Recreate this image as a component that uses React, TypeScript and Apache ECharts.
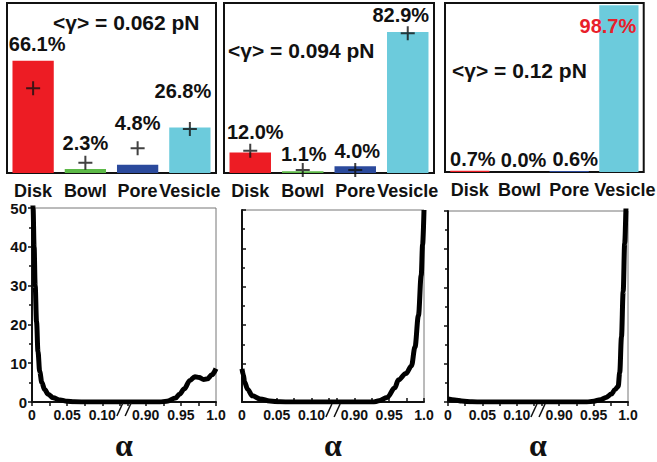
import React, { useEffect, useRef } from "react";
import * as echarts from "echarts";

// ---------- data ----------
const categories = ["Disk", "Bowl", "Pore", "Vesicle"];
const fractionsG062 = [66.1, 2.3, 4.8, 26.8];
const fractionsG094 = [12.0, 1.1, 4.0, 82.9];
const fractionsG12 = [0.7, 0.0, 0.6, 98.7];
const plusG062 = [49.8, 6.1, 14.5, 25.9];
const plusG094 = [13.1, 1.8, 1.8, 82.2];
const gammaTitles = ["<γ> = 0.062 pN", "<γ> = 0.094 pN", "<γ> = 0.12 pN"];

const alphaG062 = [0, 0.0015, 0.003, 0.0045, 0.0065, 0.0085, 0.011, 0.014, 0.018, 0.023, 0.03, 0.04, 0.05, 0.06, 0.08, 0.125,
  0.875, 0.92, 0.93, 0.9425, 0.948, 0.955, 0.9625, 0.97, 0.976, 0.9825, 0.988, 0.994, 1.0];
const densG062 = [62, 50, 40, 30, 20.6, 13, 7.8, 5, 3.2, 2.0, 1.1, 0.5, 0.2, 0.05, 0, 0,
  0, 0, 0.2, 1.0, 2.0, 3.4, 5.5, 6.5, 6.3, 5.8, 6.0, 7.0, 8.6];

const alphaG094 = [0, 0.002, 0.0036, 0.008, 0.015, 0.026, 0.04, 0.055, 0.07, 0.125,
  0.875, 0.928, 0.935, 0.947, 0.958, 0.963, 0.974, 0.982, 0.987, 0.992, 0.996, 0.998, 1.0];
const densG094 = [8.6, 7.0, 5.3, 3.3, 1.6, 0.8, 0.25, 0.05, 0, 0,
  0, 0, 0.3, 1.2, 3.7, 5.7, 7.4, 9.4, 14.3, 22.5, 33, 41, 50];

const alphaG12 = [0, 0.01, 0.02, 0.035, 0.05, 0.125,
  0.875, 0.94, 0.95, 0.96, 0.968, 0.976, 0.981, 0.9857, 0.988, 0.9905, 0.993, 0.9952, 0.9976, 1.0];
const densG12 = [0.8, 0.5, 0.25, 0.05, 0, 0,
  0, 0, 0.2, 0.6, 1.2, 2.1, 3.2, 4.1, 7.8, 17, 29, 41.6, 52, 60];

const yTicks = [0, 10, 20, 30, 40, 50];
const breakStart = 0.125;
const breakEnd = 0.875;

// ---------- styles ----------
const barColors = ["#ed1c24", "#5cb947", "#2b4a9c", "#6ccbdc"];
const SANS = '"Liberation Sans", Arial, sans-serif';
const topGrids = [
  { left: 7, top: 3, width: 209, height: 170 },
  { left: 224, top: 3, width: 210, height: 170 },
  { left: 445, top: 3, width: 210, height: 169 },
];
const bottomGrids = [
  { left: 32, top: 208, width: 184, height: 204 },
  { left: 242, top: 210, width: 182, height: 203 },
  { left: 448, top: 211, width: 180, height: 202 },
];
const titlePos = [
  [53, 22],
  [228, 50],
  [452, 70],
];
// label offsets [dx, dy] relative to "top" placement
const labelOffsets = [
  [[4, -2], [0, -11], [0, -27], [-7, -21]],
  [[5, -6], [1, -2], [2, 0], [-7, -2]],
  [[3, 3], [4, 3], [6, 3], [-11, 36]],
];
const tickInside = [false, true, false];

export default function App() {
  const ref = useRef<HTMLDivElement>(null);

  useEffect(() => {
    if (!ref.current) return;
    const chart = echarts.init(ref.current, undefined, { renderer: "svg" });
    const fractions = [fractionsG062, fractionsG094, fractionsG12];
    const pluses = [plusG062, plusG094, null];
    const curves = [
      [alphaG062, densG062],
      [alphaG094, densG094],
      [alphaG12, densG12],
    ];

    const grid: any[] = [];
    const xAxis: any[] = [];
    const yAxis: any[] = [];
    const series: any[] = [];

    topGrids.forEach((g, i) => {
      grid.push({ ...g, show: true, borderColor: "#111", borderWidth: 2, backgroundColor: "#fff" });
      xAxis.push({
        type: "category",
        gridIndex: i,
        data: categories.map((c, k) =>
          i === 2 && k === 3 ? { value: c, textStyle: { padding: [0, 0, 0, 12] } } : c
        ),
        axisLine: { show: false },
        axisTick: { show: false },
        axisLabel: { fontFamily: SANS, fontWeight: "bold", fontSize: 18, color: "#111", margin: 9, interval: 0 },
      });
      yAxis.push({ type: "value", gridIndex: i, min: 0, max: 100, show: false, splitLine: { show: false } });
      series.push({
        type: "bar",
        xAxisIndex: i,
        yAxisIndex: i,
        barCategoryGap: "21%",
        data: fractions[i].map((v, k) => ({
          value: v,
          itemStyle: { color: barColors[k] },
          label: {
            show: true,
            position: "top",
            offset: labelOffsets[i][k],
            color: i === 2 && k === 3 ? "#e8202a" : "#111",
          },
        })),
        label: {
          show: true,
          formatter: (p: any) => `${Number(p.value).toFixed(1)}%`,
          fontFamily: SANS,
          fontWeight: "bold",
          fontSize: 20,
        },
        z: 2,
      });
      const pl = pluses[i];
      if (pl) {
        series.push({
          type: "scatter",
          xAxisIndex: i,
          yAxisIndex: i,
          data: pl,
          symbol: "path://M6,0H8V6H14V8H8V14H6V8H0V6H6Z",
          symbolSize: 14,
          itemStyle: { color: "#111" },
          z: 5,
        });
      }
    });

    bottomGrids.forEach((g, j) => {
      const idx = 3 + j;
      grid.push({ ...g, show: true, borderColor: "#777", borderWidth: 1, backgroundColor: "#fff" });
      xAxis.push({
        type: "value",
        gridIndex: idx,
        min: 0,
        max: 1,
        interval: 0.025,
        breaks: [{ start: breakStart, end: breakEnd, gap: "4.5%" }],
        breakArea: { show: false },
        name: "α",
        nameLocation: "middle",
        nameGap: 27,
        nameTextStyle: {
          fontFamily: '"Liberation Serif", "Times New Roman", serif',
          fontWeight: "bold",
          fontSize: 32,
          color: "#111",
        },
        axisLine: { show: true, onZero: false, lineStyle: { color: "#111", width: 2 } },
        axisTick: { show: true, inside: tickInside[j], length: 4, lineStyle: { color: "#111", width: 1.5 } },
        axisLabel: {
          fontFamily: SANS,
          fontWeight: "bold",
          fontSize: 14,
          color: "#111",
          margin: 6,
          showMinLabel: true,
          showMaxLabel: true,
          formatter: (v: number) => {
            const r = Math.round(v * 1000) / 1000;
            if (Math.abs(Math.round(r * 20) - r * 20) > 1e-6) return "";
            if (r === 0) return "0";
            if (r === 1) return "1.0";
            return r.toFixed(2);
          },
        },
        splitLine: { show: false },
      });
      yAxis.push({
        type: "value",
        gridIndex: idx,
        min: 0,
        max: 50,
        interval: 10,
        axisLine: { show: true, lineStyle: { color: "#111", width: 2 } },
        axisTick: { show: true, inside: tickInside[j], length: 4, lineStyle: { color: "#111", width: 1.5 } },
        minorTick: { show: true, splitNumber: 2, length: 3, lineStyle: { color: "#111", width: 1.5 } },
        axisLabel: {
          show: j === 0,
          fontFamily: SANS,
          fontWeight: "bold",
          fontSize: 15,
          color: "#111",
          margin: 5,
          formatter: (v: number) => (yTicks.includes(v) ? String(v) : ""),
        },
        splitLine: { show: false },
      });
      const [ax, dn] = curves[j];
      series.push({
        type: "line",
        xAxisIndex: idx,
        yAxisIndex: idx,
        data: ax.map((a, k) => [a, dn[k]]),
        showSymbol: false,
        smooth: 0.35,
        smoothMonotone: "x",
        clip: true,
        lineStyle: { color: "#000", width: 5 },
        z: 3,
      });
    });

    const graphic: any[] = gammaTitles.map((t, i) => ({
      type: "text",
      x: titlePos[i][0],
      y: titlePos[i][1],
      z: 10,
      style: {
        text: t,
        fill: "#111",
        font: `bold 21px ${SANS}`,
        verticalAlign: "middle",
        align: "left",
      },
    }));

    chart.setOption({
      animation: false,
      backgroundColor: "#fff",
      grid,
      xAxis,
      yAxis,
      series,
      graphic,
    });

    // break marks on the bottom axes
    const marks: any[] = [];
    bottomGrids.forEach((g, j) => {
      const idx = 3 + j;
      const xa = chart.convertToPixel({ xAxisIndex: idx } as any, breakStart) as any as number;
      const xb = chart.convertToPixel({ xAxisIndex: idx } as any, breakEnd) as any as number;
      const y = g.top + g.height;
      if (typeof xa !== "number" || typeof xb !== "number" || isNaN(xa) || isNaN(xb)) return;
      marks.push({
        type: "rect",
        z: 50,
        shape: { x: xa, y: y - 5, width: xb - xa, height: 8 },
        style: { fill: "#fff" },
      });
      [xa, xb].forEach((xx) =>
        marks.push({
          type: "line",
          z: 51,
          shape: { x1: xx - 3, y1: y + 4, x2: xx + 3, y2: y - 9 },
          style: { stroke: "#111", lineWidth: 1.5 },
        })
      );
    });
    chart.setOption({ graphic: [...graphic, ...marks] });

    return () => chart.dispose();
  }, []);

  return (
    <div
      ref={ref}
      style={{ position: "absolute", left: 0, top: 0, width: 657, height: 462, background: "#fff" }}
    />
  );
}
